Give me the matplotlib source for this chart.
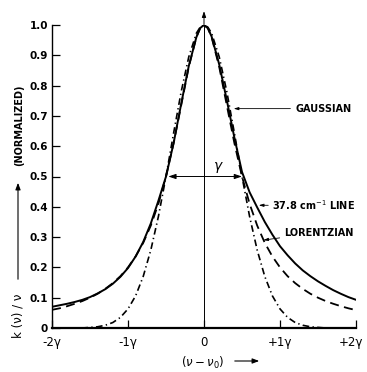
import numpy as np
import matplotlib
matplotlib.use("Agg")
import matplotlib.pyplot as plt
import matplotlib.transforms as mtransforms

# frequency offset (nu - nu0), in units of gamma
offset = [-2.0, -1.9, -1.8, -1.7, -1.6, -1.5, -1.4, -1.3, -1.2, -1.1,
          -1.0, -0.9, -0.8, -0.7, -0.6, -0.5, -0.4, -0.3, -0.2, -0.1, -0.05,
          0.0, 0.05, 0.1, 0.2, 0.3, 0.4, 0.5, 0.6, 0.7, 0.8, 0.9,
          1.0, 1.1, 1.2, 1.3, 1.4, 1.5, 1.6, 1.7, 1.8, 1.9, 2.0]

# measured 37.8 cm-1 line (solid)
line_378 = [0.070, 0.075, 0.080, 0.086, 0.093, 0.102, 0.114, 0.128, 0.146, 0.169,
            0.198, 0.236, 0.284, 0.345, 0.420, 0.500, 0.610, 0.740, 0.865, 0.960, 0.990,
            1.000, 0.990, 0.962, 0.870, 0.752, 0.628, 0.515, 0.448, 0.398, 0.350, 0.308,
            0.270, 0.240, 0.213, 0.190, 0.171, 0.154, 0.139, 0.125, 0.113, 0.102, 0.093]

# lorentzian (dashed)
lorentzian = [0.060, 0.065, 0.072, 0.080, 0.089, 0.100, 0.113, 0.129, 0.148, 0.171,
              0.200, 0.236, 0.281, 0.338, 0.410, 0.500, 0.610, 0.735, 0.862, 0.960, 0.990,
              1.000, 0.990, 0.960, 0.862, 0.735, 0.610, 0.500, 0.410, 0.338, 0.281, 0.236,
              0.200, 0.171, 0.148, 0.129, 0.113, 0.100, 0.089, 0.080, 0.072, 0.065, 0.059]

# gaussian (dash-dot)
gaussian = [0.000, 0.000, 0.000, 0.000, 0.000, 0.002, 0.004, 0.009, 0.018, 0.035,
            0.063, 0.106, 0.170, 0.257, 0.368, 0.500, 0.643, 0.780, 0.895, 0.973, 0.993,
            1.000, 0.993, 0.973, 0.895, 0.780, 0.643, 0.500, 0.368, 0.257, 0.170, 0.106,
            0.063, 0.035, 0.018, 0.009, 0.004, 0.002, 0.000, 0.000, 0.000, 0.000, 0.000]

x_ticks = [-2, -1, 0, 1, 2]
x_ticklabels = ["-2γ", "-1γ", "0", "+1γ", "+2γ"]
y_ticks = [0, 0.1, 0.2, 0.3, 0.4, 0.5, 0.6, 0.7, 0.8, 0.9, 1.0]
y_ticklabels = ["0", "0.1", "0.2", "0.3", "0.4", "0.5", "0.6", "0.7", "0.8", "0.9", "1.0"]

W, H = 367, 372
fig = plt.figure(figsize=(W / 100, H / 100), dpi=100)
ax = fig.add_axes([52 / W, 1 - 328 / H, (356 - 52) / W, (328 - 25) / H])

ax.plot(offset, line_378, color="black", lw=1.4, solid_capstyle="round")
ax.plot(offset, lorentzian, color="black", lw=1.3, dashes=(5, 3))
ax.plot(offset, gaussian, color="black", lw=1.2, dashes=(4, 2, 0.8, 2))

ax.set_xlim(-2, 2)
ax.set_ylim(0, 1)
for s in ["top", "right"]:
    ax.spines[s].set_visible(False)
ax.spines["left"].set_linewidth(1.0)
ax.spines["bottom"].set_linewidth(1.6)

ax.set_xticks(x_ticks)
ax.set_xticklabels(x_ticklabels, fontsize=8.5)
ax.set_yticks(y_ticks)
ax.set_yticklabels(y_ticklabels, fontsize=7.5, fontweight="bold")
ax.tick_params(axis="both", direction="in", length=6, width=0.9, colors="black")
ax.tick_params(axis="y", pad=3)
ax.tick_params(axis="x", pad=6)
# pull the last label in a little so it stays on the page
last = ax.get_xticklabels()[-1]
last.set_transform(last.get_transform() +
                   mtransforms.ScaledTranslation(-5 / 100, 0, fig.dpi_scale_trans))

# central line with arrow on top
ax.plot([0, 0], [0, 1.0], color="black", lw=0.7, clip_on=False)
ax.annotate("", xy=(0, 1.055), xytext=(0, 0.99), xycoords="data",
            arrowprops=dict(arrowstyle="-|>,head_length=0.35,head_width=0.12",
                            color="black", lw=0.7), annotation_clip=False)

# width marker
ax.annotate("", xy=(-0.47, 0.5), xytext=(0, 0.5),
            arrowprops=dict(arrowstyle="-|>,head_length=0.45,head_width=0.15",
                            color="black", lw=0.7, shrinkA=0, shrinkB=0))
ax.annotate("", xy=(0.5, 0.5), xytext=(0, 0.5),
            arrowprops=dict(arrowstyle="-|>,head_length=0.45,head_width=0.15",
                            color="black", lw=0.7, shrinkA=0, shrinkB=0))
ax.text(0.19, 0.535, "γ", fontsize=10, style="italic", ha="center", va="center")

# curve labels
lab = dict(fontsize=7, fontweight="bold", va="center", ha="left")
ax.annotate("GAUSSIAN", xy=(0.39, 0.724), xytext=(1.21, 0.724), **lab,
            arrowprops=dict(arrowstyle="-|>,head_length=0.4,head_width=0.12",
                            color="black", lw=0.6, shrinkA=2, shrinkB=0))
ax.annotate("37.8 cm$^{-1}$ LINE", xy=(0.72, 0.405), xytext=(0.9, 0.405), **lab,
            arrowprops=dict(arrowstyle="-|>,head_length=0.4,head_width=0.12",
                            color="black", lw=0.6, shrinkA=1, shrinkB=0))
ax.annotate("LORENTZIAN", xy=(0.78, 0.29), xytext=(1.05, 0.315), **lab,
            arrowprops=dict(arrowstyle="-|>,head_length=0.4,head_width=0.12",
                            color="black", lw=0.6, shrinkA=1, shrinkB=0))

# axis labels
fig.text(18 / W, 1 - 316 / H, "k (ν) / ν", rotation=90, fontsize=8.5,
         ha="center", va="center")
fig.text(19 / W, 1 - 125 / H, "(NORMALIZED)", rotation=90, fontsize=7,
         fontweight="bold", ha="center", va="center")
fig.add_artist(matplotlib.patches.FancyArrowPatch(
    (18 / W, 1 - 282 / H), (18 / W, 1 - 180 / H), transform=fig.transFigure,
    arrowstyle="-|>,head_length=4,head_width=1.5", color="black", lw=0.8))

fig.text(203 / W, 1 - 363 / H, r"$(\nu - \nu_0)$", fontsize=8.5,
         ha="center", va="center")
fig.add_artist(matplotlib.patches.FancyArrowPatch(
    (232 / W, 1 - 361 / H), (262 / W, 1 - 361 / H), transform=fig.transFigure,
    arrowstyle="-|>,head_length=4,head_width=1.5", color="black", lw=0.8))

fig.savefig("out.png", dpi=100)
